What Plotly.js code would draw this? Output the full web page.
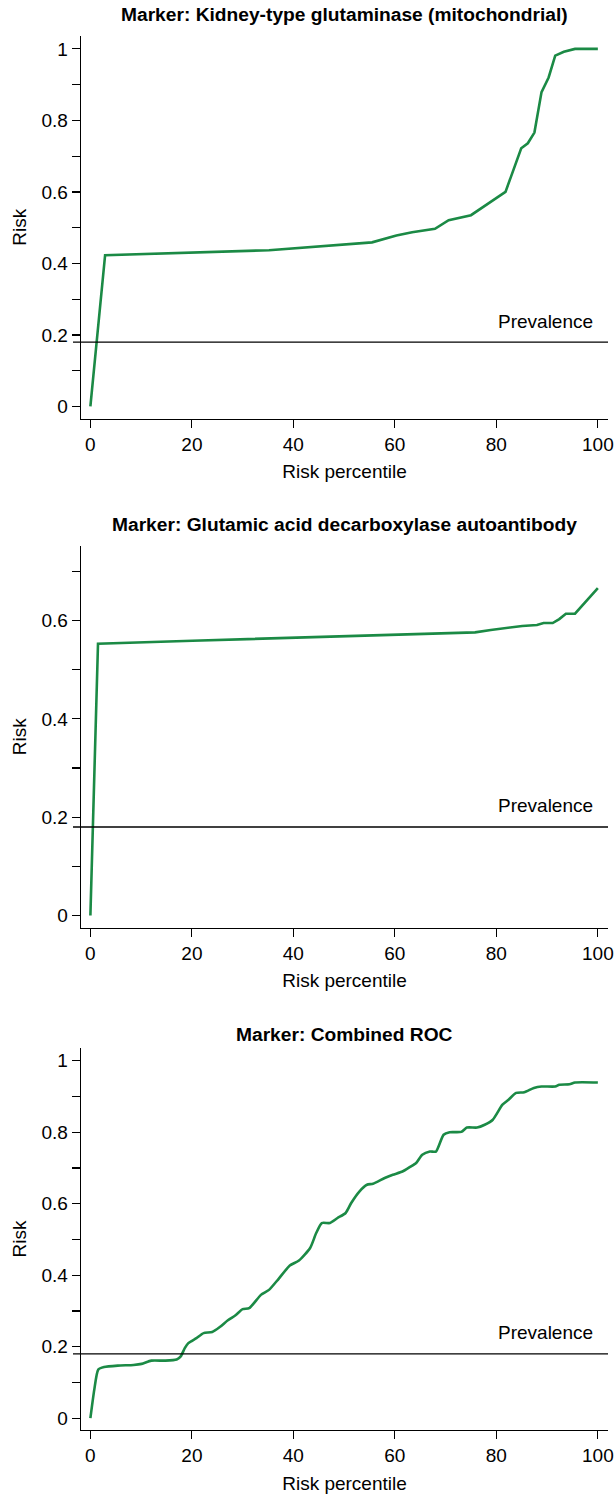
<!DOCTYPE html>
<html><head><meta charset="utf-8">
<script src="https://cdn.plot.ly/plotly-3.0.1.min.js"></script>
<style>html,body{margin:0;padding:0;background:#fff}</style>
</head><body><div id="chart" style="width:616px;height:1496px"></div>
<script>
// ---- data ----
const panelTitles = [
  "Marker: Kidney-type glutaminase (mitochondrial)",
  "Marker: Glutamic acid decarboxylase autoantibody",
  "Marker: Combined ROC"
];
const xTitle = "Risk percentile";
const yTitle = "Risk";
const prevalenceLabel = "Prevalence";
const prevalence = 0.18;

const kgaPct  = [0, 2.9, 35.2, 55.5, 60.3, 63.4, 67.9, 70.6, 75.0, 81.8, 84.9, 86.2, 87.5, 88.9, 90.3, 91.6, 93.3, 95.5, 100];
const kgaRisk = [0, 0.423, 0.437, 0.459, 0.478, 0.487, 0.497, 0.521, 0.535, 0.600, 0.722, 0.736, 0.766, 0.879, 0.920, 0.981, 0.992, 1.0, 1.0];

const gadPct  = [0, 1.5, 20.1, 36.3, 75.8, 78.9, 85.1, 88.0, 89.3, 91.1, 92.4, 93.7, 95.5, 100];
const gadRisk = [0, 0.553, 0.559, 0.564, 0.576, 0.581, 0.589, 0.591, 0.595, 0.595, 0.603, 0.614, 0.614, 0.666];

const rocPct  = [0, 0.77, 1.55, 2.7, 5.4, 8.5, 10.1, 12.0, 14.7, 17.0, 17.8, 18.6, 19.3, 20.9, 22.3, 24.0, 25.5, 27.1, 28.6, 30.0, 31.3, 33.6, 35.2, 37.1, 39.3, 41.1, 43.3, 44.5, 45.6, 47.2, 48.7, 50.3, 51.4, 53.0, 54.5, 55.7, 58.0, 59.6, 61.5, 63.0, 64.2, 65.4, 66.9, 68.1, 69.6, 70.8, 73.1, 74.2, 76.2, 77.7, 79.3, 81.2, 82.4, 83.9, 85.5, 87.4, 88.9, 91.6, 92.4, 94.4, 95.5, 100];
const rocRisk = [0, 0.080, 0.136, 0.143, 0.147, 0.149, 0.152, 0.161, 0.161, 0.164, 0.173, 0.196, 0.210, 0.224, 0.238, 0.241, 0.255, 0.274, 0.288, 0.305, 0.308, 0.345, 0.359, 0.390, 0.427, 0.441, 0.476, 0.518, 0.546, 0.546, 0.560, 0.574, 0.602, 0.634, 0.653, 0.656, 0.672, 0.681, 0.690, 0.703, 0.714, 0.737, 0.746, 0.746, 0.793, 0.800, 0.801, 0.813, 0.813, 0.821, 0.835, 0.877, 0.891, 0.910, 0.912, 0.924, 0.928, 0.928, 0.933, 0.934, 0.939, 0.939];

const xTickVals = [0, 20, 40, 60, 80, 100];
const xTickText = ["0", "20", "40", "60", "80", "100"];
const yTickValsFull = [0, 0.1, 0.2, 0.3, 0.4, 0.5, 0.6, 0.7, 0.8, 0.9, 1];
const yTickTextFull = ["0", "", "0.2", "", "0.4", "", "0.6", "", "0.8", "", "1"];
const yTickValsGad = [0, 0.1, 0.2, 0.3, 0.4, 0.5, 0.6, 0.7];
const yTickTextGad = ["0", "", "0.2", "", "0.4", "", "0.6", ""];

// ---- styling ----
const GREEN = '#1b8a45';
const FONT = 'Liberation Sans, Arial, Helvetica, sans-serif';
const FS = 19;
const TFS = 19.2;

function lineTrace(x, y, ax, spline) {
  return {
    x: x, y: y, type: 'scatter', mode: 'lines',
    xaxis: 'x' + ax, yaxis: 'y' + ax,
    line: {color: GREEN, width: 2.6, shape: spline ? 'spline' : 'linear', smoothing: 0.6},
    hoverinfo: 'skip', showlegend: false
  };
}

const traces = [
  lineTrace(kgaPct, kgaRisk, '', false),
  lineTrace(gadPct, gadRisk, '2', false),
  lineTrace(rocPct, rocRisk, '3', true)
];

function xAxis(anchor) {
  return {
    anchor: anchor, domain: [0, 1], range: [-1.85, 102],
    tickmode: 'array', tickvals: xTickVals, ticktext: xTickText,
    ticks: 'outside', ticklen: 8, tickwidth: 1.2, tickcolor: '#000',
    showline: true, linecolor: '#000', linewidth: 1.3,
    showgrid: false, zeroline: false,
    tickfont: {family: FONT, size: FS, color: '#000'},
    title: {text: xTitle, font: {family: FONT, size: FS, color: '#000'}, standoff: 11}
  };
}
function yAxis(anchor, dom, rng, tv, tt) {
  return {
    anchor: anchor, domain: dom, range: rng,
    tickmode: 'array', tickvals: tv, ticktext: tt,
    ticks: 'outside', ticklen: 8, tickwidth: 1.2, tickcolor: '#000',
    showline: true, linecolor: '#000', linewidth: 1.3,
    showgrid: false, zeroline: false,
    tickfont: {family: FONT, size: FS, color: '#000'},
    title: {text: yTitle, font: {family: FONT, size: FS, color: '#000'}, standoff: 9}
  };
}

const domains = [[0.7255, 1], [0.3603, 0.6344], [0, 0.274]];
const titleY = [1.0151, 0.6493, 0.2835];

const annotations = [];
panelTitles.forEach((t, i) => {
  annotations.push({
    text: t, xref: 'paper', yref: 'paper', x: 0.5, y: titleY[i],
    xanchor: 'center', yanchor: 'middle', showarrow: false,
    font: {family: FONT, size: TFS, color: '#000', weight: 'bold'}
  });
});
['', '2', '3'].forEach(ax => {
  annotations.push({
    text: prevalenceLabel, xref: 'x' + ax, yref: 'y' + ax, x: 99.4, y: prevalence,
    xanchor: 'right', yanchor: 'middle', yshift: 21, showarrow: false,
    font: {family: FONT, size: FS, color: '#000'}
  });
});

const shapes = ['', '2', '3'].map(ax => ({
  type: 'line', xref: 'paper', yref: 'y' + ax, x0: -0.0152, x1: 1, y0: prevalence, y1: prevalence,
  line: {color: '#000', width: 1.4}
}));

const layout = {
  width: 616, height: 1496,
  margin: {l: 81, r: 8, t: 36, b: 65.7},
  paper_bgcolor: '#fff', plot_bgcolor: '#fff',
  font: {family: FONT, size: FS, color: '#000'},
  xaxis: xAxis('y'), yaxis: yAxis('x', domains[0], [-0.034, 1.036], yTickValsFull, yTickTextFull),
  xaxis2: xAxis('y2'), yaxis2: yAxis('x2', domains[1], [-0.025, 0.7525], yTickValsGad, yTickTextGad),
  xaxis3: xAxis('y3'), yaxis3: yAxis('x3', domains[2], [-0.033, 1.0355], yTickValsFull, yTickTextFull),
  annotations: annotations, shapes: shapes
};

Plotly.newPlot('chart', traces, layout, {staticPlot: true, displayModeBar: false});
</script>
</body></html>
